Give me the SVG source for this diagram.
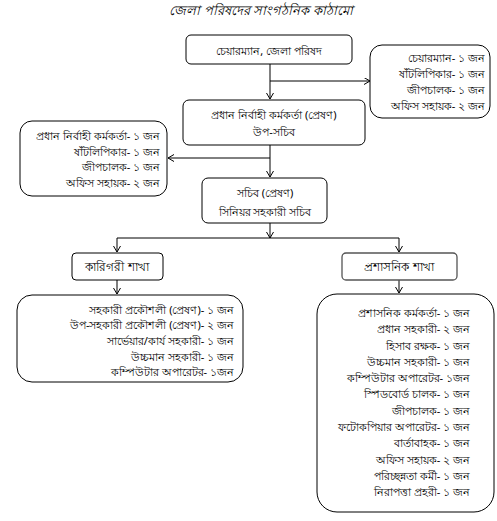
<svg xmlns="http://www.w3.org/2000/svg" width="497" height="521" viewBox="0 0 497 521">
<style>
  .box { fill: #fff; stroke: #000; stroke-width: 1; }
  .box2 { fill: #fff; stroke: #555; stroke-width: 1.3; }
  text { font-family: "Noto Sans", "DejaVu Sans", sans-serif; font-size: 11px; fill: #000; }
  .c { text-anchor: middle; }
  .r { text-anchor: end; }
  .big { font-size: 12px; }
  .title { font-size: 13px; font-style: italic; text-anchor: middle; }
  .con { fill: none; stroke: #000; stroke-width: 1; }
</style>
<defs>
  <marker id="arr" markerWidth="8" markerHeight="8" refX="6" refY="3.5" orient="auto" markerUnits="userSpaceOnUse">
    <path d="M0,0 L6,3.5 L0,7" fill="none" stroke="#000" stroke-width="1"/>
  </marker>
</defs>
<text class="title" x="261" y="15">জেলা পরিষদের সাংগঠনিক কাঠামো</text>
<g id="connectors">
  <path class="con" d="M270,64 V99" marker-end="url(#arr)"/>
  <path class="con" d="M270,81 H370" marker-end="url(#arr)"/>
  <path class="con" d="M270,145 V177" marker-end="url(#arr)"/>
  <path class="con" d="M270,158 H168" marker-end="url(#arr)"/>
  <path class="con" d="M270,223 V238" marker-end="url(#arr)"/>
  <path class="con" d="M117,238 H399"/>
  <path class="con" d="M117,238 V252" marker-end="url(#arr)"/>
  <path class="con" d="M399,238 V252" marker-end="url(#arr)"/>
  <path class="con" d="M117,280 V294" marker-end="url(#arr)"/>
  <path class="con" d="M399,280 V293" marker-end="url(#arr)"/>
</g>
<g id="chairman">
  <rect class="box" x="186" y="35" width="166" height="29" rx="5"/>
  <text class="c" x="269" y="55">চেয়ারম্যান, জেলা পরিষদ</text>
</g>
<g id="chairman-staff">
  <rect class="box" x="370" y="45" width="120" height="73" rx="12"/>
  <text class="r" x="485" y="62">চেয়ারম্যান- ১ জন</text>
  <text class="r" x="485" y="78">ষাঁটলিপিকার- ১ জন</text>
  <text class="r" x="485" y="94">জীপচালক- ১ জন</text>
  <text class="r" x="485" y="110">অফিস সহায়ক- ২ জন</text>
</g>
<g id="ceo">
  <rect class="box" x="183" y="100" width="182" height="45" rx="6"/>
  <text class="c" x="274" y="119">প্রধান নির্বাহী কর্মকর্তা (প্রেষণ)</text>
  <text class="c" x="274" y="136">উপ-সচিব</text>
</g>
<g id="ceo-staff">
  <rect class="box" x="20" y="121" width="147" height="75" rx="12"/>
  <text class="r" x="160" y="140">প্রধান নির্বাহী কর্মকর্তা- ১ জন</text>
  <text class="r" x="160" y="156">ষাঁটলিপিকার- ১ জন</text>
  <text class="r" x="160" y="171">জীপচালক- ১ জন</text>
  <text class="r" x="160" y="187">অফিস সহায়ক- ২ জন</text>
</g>
<g id="secretary">
  <rect class="box" x="202" y="178" width="125" height="45" rx="6"/>
  <text class="c" x="265" y="197">সচিব (প্রেষণ)</text>
  <text class="c" x="265" y="216">সিনিয়র সহকারী সচিব</text>
</g>
<g id="technical">
  <rect class="box" x="72" y="253" width="91" height="27" rx="4"/>
  <text class="c big" x="117" y="271">কারিগরী শাখা</text>
</g>
<g id="admin">
  <rect class="box2" x="342" y="253" width="115" height="27" rx="4"/>
  <text class="c big" x="399" y="271">প্রশাসনিক শাখা</text>
</g>
<g id="technical-staff">
  <rect class="box" x="17" y="295" width="226" height="87" rx="15"/>
  <text class="r" x="234" y="314">সহকারী প্রকৌশলী (প্রেষণ)- ১ জন</text>
  <text class="r" x="234" y="329">উপ-সহকারী প্রকৌশলী (প্রেষণ)- ২ জন</text>
  <text class="r" x="234" y="345">সার্ভেয়ার/কার্য সহকারী- ১ জন</text>
  <text class="r" x="234" y="361">উচ্চমান সহকারী- ১ জন</text>
  <text class="r" x="234" y="376">কম্পিউটার অপারেটর- ১জন</text>
</g>
<g id="admin-staff">
  <rect class="box" x="317" y="294" width="177" height="218" rx="20"/>
  <text class="r" x="470" y="317">প্রশাসনিক কর্মকর্তা- ১ জন</text>
  <text class="r" x="470" y="333">প্রধান সহকারী- ২ জন</text>
  <text class="r" x="470" y="350">হিসাব রক্ষক- ১ জন</text>
  <text class="r" x="470" y="366">উচ্চমান সহকারী- ১ জন</text>
  <text class="r" x="470" y="382">কম্পিউটার অপারেটর- ১জন</text>
  <text class="r" x="470" y="398">স্পিডবোর্ড চালক- ১ জন</text>
  <text class="r" x="470" y="415">জীপচালক- ১ জন</text>
  <text class="r" x="470" y="431">ফটোকপিয়ার অপারেটর- ১ জন</text>
  <text class="r" x="470" y="447">বার্তাবাহক- ১ জন</text>
  <text class="r" x="470" y="464">অফিস সহায়ক- ২ জন</text>
  <text class="r" x="470" y="480">পরিচ্ছন্নতা কর্মী- ১ জন</text>
  <text class="r" x="470" y="496">নিরাপত্তা প্রহরী- ১ জন</text>
</g>
</svg>
